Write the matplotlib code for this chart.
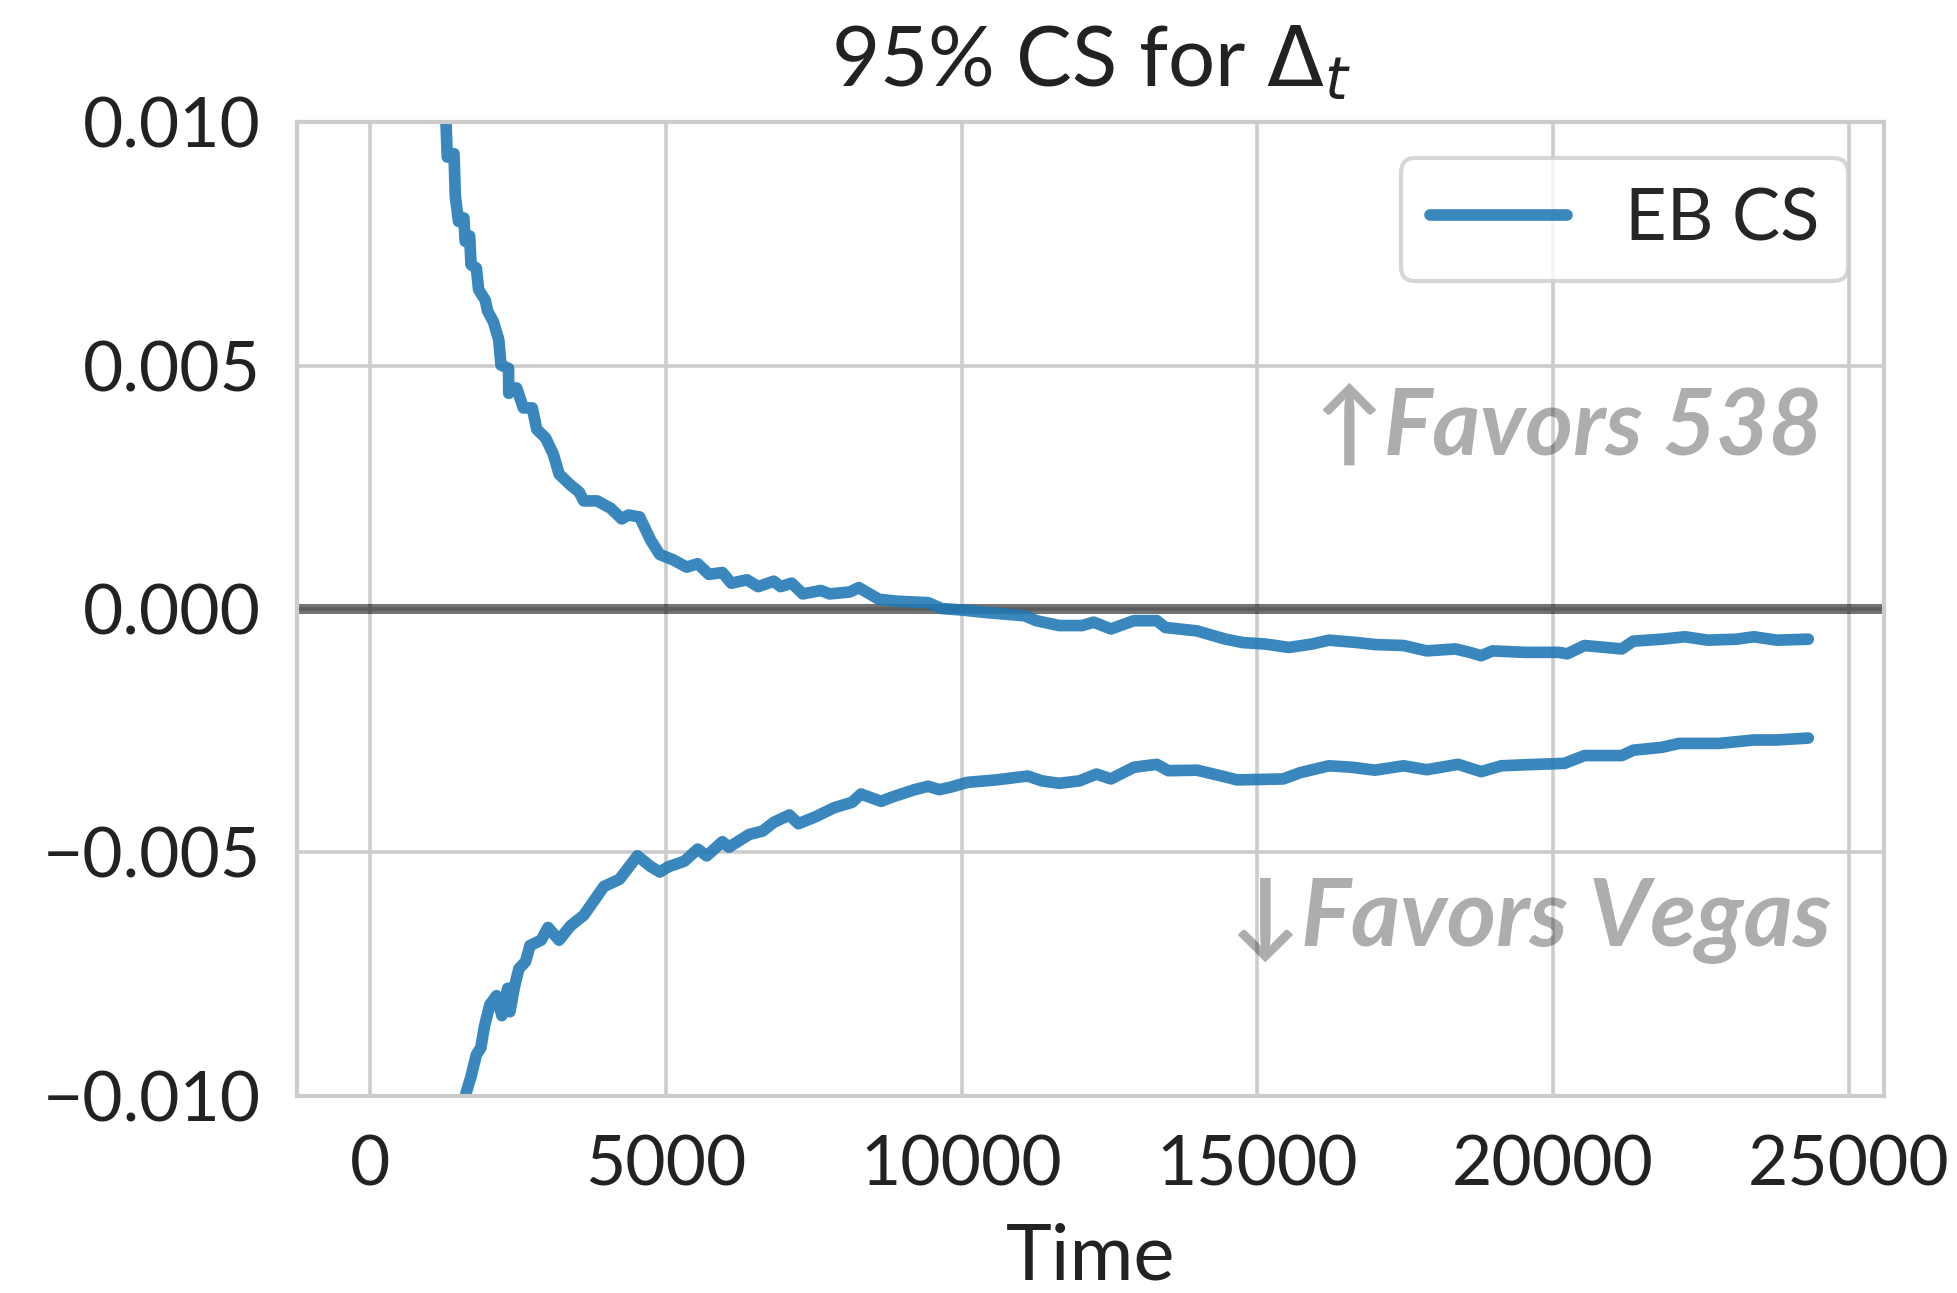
import matplotlib

matplotlib.use("Agg")
import matplotlib.pyplot as plt
import seaborn as sns

# upper / lower bound of the 95% confidence sequence
upper_t = [1000, 1278, 1301, 1414, 1437, 1490, 1581, 1603, 1679, 1702, 1793, 1830, 1944, 1982,
           2080, 2171, 2209, 2337, 2340, 2473, 2587, 2738, 2814, 2965, 3094, 3192, 3381, 3532,
           3608, 3835, 4062, 4251, 4364, 4553, 4742, 4894, 5121, 5348, 5537, 5726, 5953, 6104,
           6369, 6558, 6823, 6936, 7125, 7314, 7617, 7768, 8109, 8260, 8600, 8903, 9432, 9659,
           10000, 10388, 11068, 11262, 11650, 12039, 12233, 12524, 12913, 13301, 13447, 13981,
           14466, 14757, 15146, 15534, 15922, 16214, 16699, 16990, 17476, 17864, 18350, 18592,
           18786, 18981, 19515, 20097, 20243, 20534, 21165, 21359, 21845, 22233, 22621, 23107,
           23398, 23786, 24320]
upper_v = [0.0125, 0.0100, 0.00928, 0.00935, 0.00847, 0.00796, 0.00803, 0.00755, 0.00766,
           0.00707, 0.00700, 0.00656, 0.00634, 0.00612, 0.00590, 0.00553, 0.00501, 0.00494,
           0.00443, 0.00454, 0.00413, 0.00413, 0.00369, 0.00351, 0.00318, 0.00277, 0.00255,
           0.00240, 0.00222, 0.00222, 0.00207, 0.00185, 0.00193, 0.00189, 0.00141, 0.00112,
           0.00101, 0.00086, 0.00093, 0.00071, 0.00075, 0.00053, 0.00060, 0.00046, 0.00057,
           0.00046, 0.00053, 0.00031, 0.00038, 0.00031, 0.00035, 0.00044, 0.00020, 0.00016,
           0.00013, 0.00001, -0.00002, -0.00007, -0.00014, -0.00024, -0.00034, -0.00034,
           -0.00027, -0.00041, -0.00024, -0.00024, -0.00038, -0.00045, -0.00062, -0.00069,
           -0.00072, -0.00079, -0.00072, -0.00064, -0.00069, -0.00073, -0.00075, -0.00086,
           -0.00082, -0.00089, -0.00096, -0.00086, -0.00089, -0.00089, -0.00092, -0.00075,
           -0.00082, -0.00066, -0.00062, -0.00057, -0.00064, -0.00062, -0.00057, -0.00064,
           -0.00062]

lower_t = [1400, 1604, 1702, 1793, 1868, 1929, 2020, 2133, 2224, 2322, 2360, 2436, 2511, 2625,
           2700, 2889, 3003, 3192, 3381, 3608, 3759, 3948, 4213, 4516, 4742, 4894, 5045, 5310,
           5537, 5688, 5953, 6066, 6407, 6634, 6823, 7087, 7239, 7541, 7844, 8147, 8298, 8638,
           8827, 9205, 9432, 9621, 9810, 10097, 10583, 11117, 11359, 11650, 11990, 12281, 12524,
           12913, 13301, 13495, 13981, 14466, 14660, 15437, 15728, 16214, 16602, 16990, 17476,
           17864, 18398, 18786, 19126, 19515, 20194, 20534, 21165, 21359, 21845, 22136, 22816,
           23398, 23786, 24320]
lower_v = [-0.0125, -0.0100, -0.00960, -0.00915, -0.00901, -0.00857, -0.00813, -0.00794,
           -0.00835, -0.00779, -0.00827, -0.00776, -0.00739, -0.00724, -0.00691, -0.00680,
           -0.00654, -0.00680, -0.00651, -0.00629, -0.00603, -0.00570, -0.00555, -0.00507,
           -0.00529, -0.00540, -0.00529, -0.00518, -0.00493, -0.00507, -0.00478, -0.00489,
           -0.00463, -0.00456, -0.00438, -0.00423, -0.00441, -0.00426, -0.00408, -0.00397,
           -0.00380, -0.00395, -0.00386, -0.00371, -0.00364, -0.00371, -0.00366, -0.00356,
           -0.00351, -0.00343, -0.00353, -0.00358, -0.00353, -0.00339, -0.00349, -0.00325,
           -0.00319, -0.00332, -0.00331, -0.00345, -0.00351, -0.00349, -0.00336, -0.00322,
           -0.00325, -0.00331, -0.00322, -0.00330, -0.00319, -0.00334, -0.00322, -0.00320,
           -0.00317, -0.00301, -0.00301, -0.00290, -0.00284, -0.00276, -0.00276, -0.00269,
           -0.00269, -0.00265]

x_ticks = [0, 5000, 10000, 15000, 20000, 25000]
y_ticks = [-0.010, -0.005, 0.0, 0.005, 0.010]

sns.set_style("whitegrid")
plt.rcParams["font.family"] = ["Lato", "DejaVu Sans"]
plt.rcParams["axes.edgecolor"] = ".8"
plt.rcParams["grid.color"] = ".8"

fig = plt.figure(figsize=(9.785, 6.465), dpi=200)
ax = fig.add_axes([0.1518, 0.1524, 0.8109, 0.7532])

line_kw = dict(color="#1f77b4", alpha=0.88, linewidth=4.2, solid_capstyle="round",
               solid_joinstyle="round")
ax.axhline(0, color="k", alpha=0.55, linewidth=3.6, zorder=1)
ax.plot(upper_t, upper_v, label="EB CS", zorder=2, **line_kw)
ax.plot(lower_t, lower_v, zorder=2, **line_kw)

ax.set_xlim(-1240, 25600)
ax.set_ylim(-0.010, 0.010)
ax.set_xticks(x_ticks)
ax.set_yticks(y_ticks)
ax.tick_params(axis="both", labelsize=25, colors="#222222", length=0)
ax.tick_params(axis="x", pad=14)
ax.tick_params(axis="y", pad=13)
ax.grid(True, linewidth=1.3)
for s in ax.spines.values():
    s.set_linewidth(1.5)

ax.set_xlabel("Time", fontsize=28, color="#222222", labelpad=9)
ax.set_title(r"95% CS for $\Delta_t$", fontsize=30, color="#222222", pad=13)

ax.text(24550, 0.0037, "↑Favors 538", fontsize=33, color="k", alpha=0.32, ha="right",
        va="center", fontweight="bold", fontstyle="italic")
ax.text(24700, -0.0064, "↓Favors Vegas", fontsize=34, color="k", alpha=0.32, ha="right",
        va="center", fontweight="bold", fontstyle="italic")

leg = ax.legend(loc="upper right", fontsize=26, handlelength=1.9, handletextpad=0.8,
                borderpad=0.4, frameon=True, fancybox=True)
leg.get_frame().set_edgecolor("#cccccc")
leg.get_frame().set_linewidth(1.5)

fig.savefig("out.png", dpi=200)
